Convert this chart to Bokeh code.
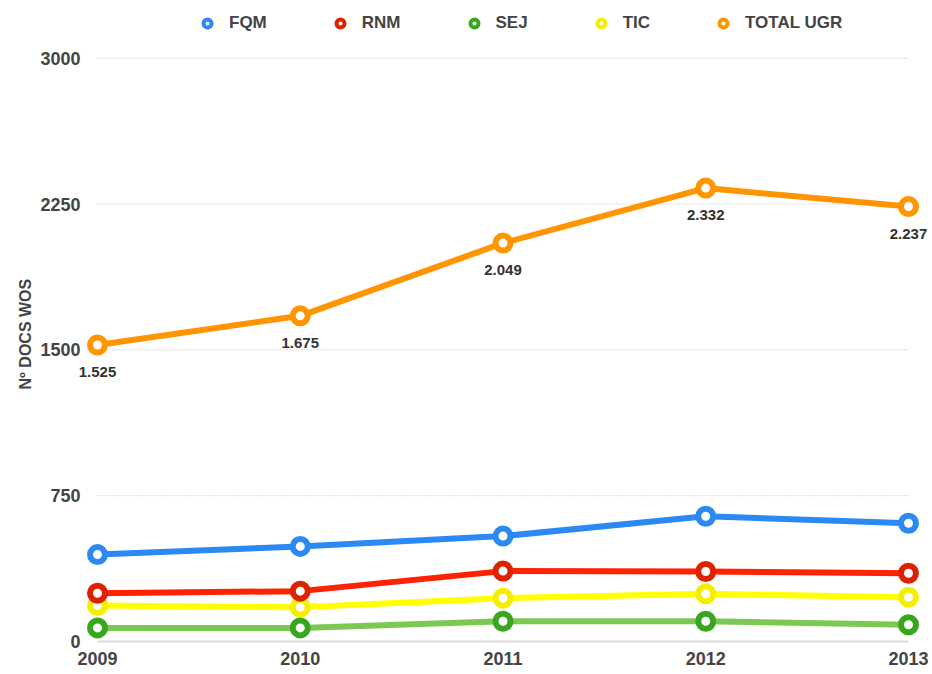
from bokeh.plotting import figure
from bokeh.models import Range1d, FixedTicker, Legend, LegendItem, Title
from bokeh.core.properties import value
from bokeh.embed import file_html
from bokeh.resources import INLINE

years = [2009, 2010, 2011, 2012, 2013]
fqm = [447, 489, 542, 644, 608]
rnm = [248, 259, 362, 360, 351]
sej = [70, 70, 104, 104, 86]
tic = [185, 176, 223, 245, 228]
total = [1525, 1675, 2049, 2332, 2237]
total_labels = ["1.525", "1.675", "2.049", "2.332", "2.237"]
y_ticks = [0, 750, 1500, 2250, 3000]
series_names = ["FQM", "RNM", "SEJ", "TIC", "TOTAL UGR"]

FONT = "Liberation Sans"

p = figure(frame_width=856, frame_height=645, output_backend="svg", toolbar_location=None,
           x_range=Range1d(2008.8964, 2013.1184), y_range=Range1d(-20.6, 3296.8),
           min_border_left=76, min_border_right=0, min_border_top=0, min_border_bottom=0)
p.outline_line_color = None
p.xgrid.visible = False
p.ygrid.visible = False

for ax in (p.xaxis, p.yaxis):
    ax.axis_line_color = None
    ax.major_tick_line_color = None
    ax.minor_tick_line_color = None
    ax.major_tick_out = 0
    ax.major_tick_in = 0
    ax.major_label_text_font = FONT
    ax.major_label_text_font_style = "bold"
    ax.major_label_text_font_size = "18px"
    ax.major_label_text_color = "#444444"
p.yaxis.ticker = FixedTicker(ticks=y_ticks)
p.xaxis.ticker = FixedTicker(ticks=years)
p.yaxis.major_label_standoff = -4
p.xaxis.major_label_standoff = 6

ytitle = Title(text="Nº DOCS WOS", align="left", offset=256, standoff=8,
               text_font=FONT, text_font_style="bold", text_font_size="16px",
               text_color="#444444")
p.add_layout(ytitle, "left")

# grid lines
p.segment(x0=years[0], x1=years[-1], y0=y_ticks[1:], y1=y_ticks[1:],
          line_color="#bbbbbb", line_width=1, line_dash="1 2")
p.segment(x0=[years[0]], x1=[years[-1]], y0=[y_ticks[0]], y1=[y_ticks[0]],
          line_color="#d9d9d9", line_width=2)

styles = {
    "TIC": ("#ffff00", "#f5ee00"),
    "SEJ": ("#7bc853", "#3aa61e"),
    "RNM": ("#ff2200", "#dd2200"),
    "FQM": ("#2b89f3", "#2b89f0"),
    "TOTAL UGR": ("#ff9500", "#ff9500"),
}
data = {"FQM": fqm, "RNM": rnm, "SEJ": sej, "TIC": tic, "TOTAL UGR": total}

for name in ["TIC", "SEJ", "RNM", "FQM", "TOTAL UGR"]:
    lc, mc = styles[name]
    p.line(years, data[name], line_color=lc, line_width=6)
    p.scatter(years, data[name], size=15, line_width=6, line_color=mc, fill_color="white")

p.text(years, total, text=total_labels, text_align="center", text_baseline="middle",
       y_offset=27, text_font=value(FONT), text_font_style="bold",
       text_font_size="15px", text_color="#333333")

nan = float("nan")
items = []
for name in series_names:
    r = p.scatter([nan], [nan], size=8, line_width=4, line_color=styles[name][1],
                  fill_color="white")
    items.append(LegendItem(label=name, renderers=[r]))

legend = Legend(items=items, orientation="horizontal", location=(121, 612),
                label_text_font=FONT, label_text_font_style="bold",
                label_text_font_size="17px", label_text_color="#444444",
                glyph_width=20, glyph_height=20, label_height=20, label_standoff=12,
                spacing=63, padding=0, margin=0, border_line_color=None,
                background_fill_alpha=0)
p.add_layout(legend)

open("out.html", "w").write(file_html(p, INLINE))
